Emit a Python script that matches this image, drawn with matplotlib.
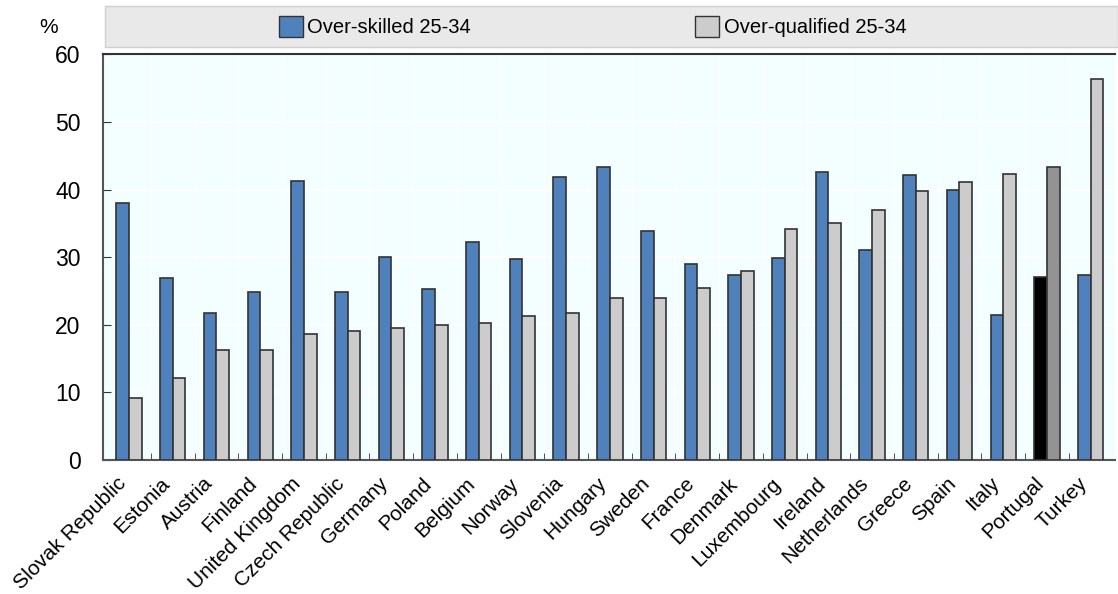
import numpy as np
import matplotlib.pyplot as plt
from matplotlib.patches import Rectangle, Patch

plt.rcParams['font.family'] = ['Liberation Sans', 'DejaVu Sans']

countries = ['Slovak Republic', 'Estonia', 'Austria', 'Finland', 'United Kingdom',
             'Czech Republic', 'Germany', 'Poland', 'Belgium', 'Norway', 'Slovenia',
             'Hungary', 'Sweden', 'France', 'Denmark', 'Luxembourg', 'Ireland',
             'Netherlands', 'Greece', 'Spain', 'Italy', 'Portugal', 'Turkey']
over_skilled = [38.0, 26.9, 21.8, 24.8, 41.2, 24.8, 30.0, 25.3, 32.2, 29.7, 41.9,
                43.4, 33.9, 29.0, 27.3, 29.9, 42.6, 31.1, 42.2, 40.0, 21.4, 27.1, 27.3]
over_qualified = [9.1, 12.1, 16.3, 16.3, 18.7, 19.1, 19.5, 19.9, 20.2, 21.3, 21.7,
                  23.9, 23.9, 25.5, 28.0, 34.2, 35.0, 37.0, 39.8, 41.1, 42.3, 43.4, 56.3]
highlight = 'Portugal'

blue = '#4f81bd'
grey = '#cccccc'
edge = '#333333'

fig = plt.figure(figsize=(11.18, 5.94), dpi=100)
ax = fig.add_axes([0.092, 0.2256, 0.905, 0.683])
ax.set_facecolor('#f2feff')

x = np.arange(len(countries))
w = 0.29
c1 = ['black' if c == highlight else blue for c in countries]
c2 = ['#939393' if c == highlight else grey for c in countries]
ax.bar(x - w / 2, over_skilled, w, color=c1, edgecolor=edge, linewidth=1.2, zorder=3)
ax.bar(x + w / 2, over_qualified, w, color=c2, edgecolor=edge, linewidth=1.2, zorder=3)

ax.set_ylim(0, 60)
ax.set_xlim(-0.6, len(countries) - 0.45)
ax.set_yticks(range(0, 61, 10))
ax.set_xticks(x - 0.3)
ax.set_xticklabels(countries, rotation=45, ha='right', rotation_mode='anchor', fontsize=15)
ax.tick_params(axis='x', length=0, pad=10)
ax.tick_params(axis='y', direction='in', length=6, labelsize=16.5, pad=16, color=edge)
ax.set_xticks(x[:-1] + 0.5, minor=True)
ax.tick_params(axis='x', which='minor', direction='in', length=5, color=edge)
ax.grid(True, axis='y', color='white', linewidth=1.2, zorder=0)
ax.grid(True, axis='x', which='minor', color='white', linewidth=1.0, zorder=0)
for s in ['left', 'bottom']:
    ax.spines[s].set_color('#555555')
    ax.spines[s].set_linewidth(1.5)
ax.spines['top'].set_color('#333333')
ax.spines['top'].set_linewidth(1.5)
ax.spines['right'].set_visible(False)

fig.text(0.035, 0.953, '%', fontsize=15, ha='left', va='center')

fig.patches.append(Rectangle((0.094, 0.921), 0.906, 0.069, transform=fig.transFigure,
                             facecolor='#e9e9e9', edgecolor='#cfcfcf', linewidth=1.0))
handles = [Patch(facecolor=blue, edgecolor=edge, label='Over-skilled 25-34'),
           Patch(facecolor=grey, edgecolor=edge, label='Over-qualified 25-34')]
fig.legend(handles=handles, loc='center', bbox_to_anchor=(0.530, 0.955), ncol=2,
           frameon=False, fontsize=14.5, handlelength=1.2, handleheight=1.2,
           handletextpad=0.2, columnspacing=11.15)

fig.savefig('out.png', dpi=100)
